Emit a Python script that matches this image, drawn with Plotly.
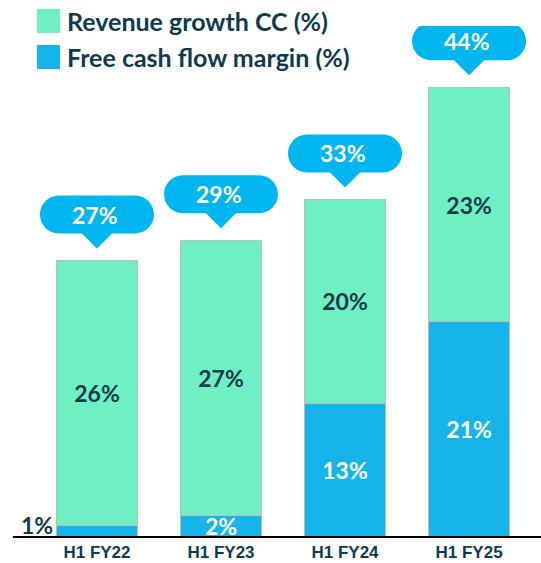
import plotly.graph_objects as go

categories = ["H1 FY22", "H1 FY23", "H1 FY24", "H1 FY25"]
revenue_growth = [26, 27, 20, 23]
fcf_margin = [1, 2, 13, 21]
totals = [27, 29, 33, 44]
series_names = ["Revenue growth CC (%)", "Free cash flow margin (%)"]

GREEN = "#6ef0c3"
BLUE = "#16b5e9"
PILL = "#00b6f0"
DARK = "#0e3b4d"
FONT = "Lato"

W, H = 541, 563
ML, MR, MT, MB = 13, 0, 26, 27
PW, PH = W - ML - MR, H - MT - MB


def fx(px):
    return (px - ML) / PW


def fy(py):
    return (H - MB - py) / PH


fig = go.Figure()
fig.add_trace(go.Bar(
    x=categories, y=fcf_margin, name=series_names[1],
    marker=dict(color=BLUE, line=dict(color="#bdbdbd", width=1)),
    text=["" if v < 2 else f"{v}%" for v in fcf_margin],
    textposition="inside", insidetextanchor="middle",
    textfont=dict(family=FONT, size=23, color="white", weight="bold"),
    width=0.655, showlegend=False,
))
fig.add_trace(go.Bar(
    x=categories, y=revenue_growth, name=series_names[0],
    marker=dict(color=GREEN, line=dict(color="#bdbdbd", width=1)),
    text=[f"{v}%" for v in revenue_growth],
    textposition="inside", insidetextanchor="middle",
    textfont=dict(family=FONT, size=23, color=DARK, weight="bold"),
    width=0.655, showlegend=False,
))

# callout pills
c = 19 * 0.5523
pill = (f"M 0,12 L 15,27 L 38,27 C {38+c},27 57,{46-c} 57,46 "
        f"C 57,{46+c} {38+c},65 38,65 L -38,65 "
        f"C {-38-c},65 -57,{46+c} -57,46 C -57,{46-c} {-38-c},27 -38,27 "
        f"L -15,27 Z")
shapes = []
annotations = []
for cat, tot in zip(categories, totals):
    shapes.append(dict(type="path", xref="x", yref="y", xsizemode="pixel",
                       ysizemode="pixel", xanchor=cat, yanchor=tot,
                       path=pill, fillcolor=PILL, line=dict(width=0),
                       layer="above"))
    annotations.append(dict(x=cat, y=tot, xref="x", yref="y", text=f"{tot}%",
                            showarrow=False, yshift=46, xshift=-2,
                            font=dict(family=FONT, size=23, color="white",
                                      weight="bold")))

# small FCF label outside first bar
annotations.append(dict(x=categories[0], y=fcf_margin[0] / 2, xref="x", yref="y",
                        text=f"{fcf_margin[0]}%", showarrow=False,
                        xanchor="right", xshift=-42, yshift=6,
                        font=dict(family=FONT, size=23, color=DARK, weight="bold")))

# legend
legend_rows = [(series_names[0], GREEN, 9, 33), (series_names[1], BLUE, 45, 69)]
for name, col, y0, y1 in legend_rows:
    shapes.append(dict(type="rect", xref="paper", yref="paper",
                       x0=fx(37), x1=fx(60), y0=fy(y1), y1=fy(y0),
                       fillcolor=col, line=dict(width=0)))
    annotations.append(dict(x=fx(65), y=fy((y0 + y1) / 2), xref="paper", yref="paper",
                            text=name, showarrow=False, xanchor="left", yanchor="middle",
                            font=dict(family=FONT, size=25, color=DARK, weight="bold")))

fig.update_layout(
    width=W, height=H, margin=dict(l=ML, r=MR, t=MT, b=MB),
    barmode="stack", plot_bgcolor="white", paper_bgcolor="white",
    shapes=shapes, annotations=annotations,
    uniformtext=dict(minsize=23, mode="show"),
    xaxis=dict(range=[-0.677, 3.58], showline=True, linecolor="black", linewidth=1.5,
               ticks="", showgrid=False, zeroline=False, automargin=False,
               tickfont=dict(family="Liberation Sans", size=17, color=DARK, weight="bold")),
    yaxis=dict(range=[0, 50], visible=False, showgrid=False, zeroline=False),
)

fig.write_html("out.html", config={"displayModeBar": False},
               post_script="document.body.style.margin='0';")
